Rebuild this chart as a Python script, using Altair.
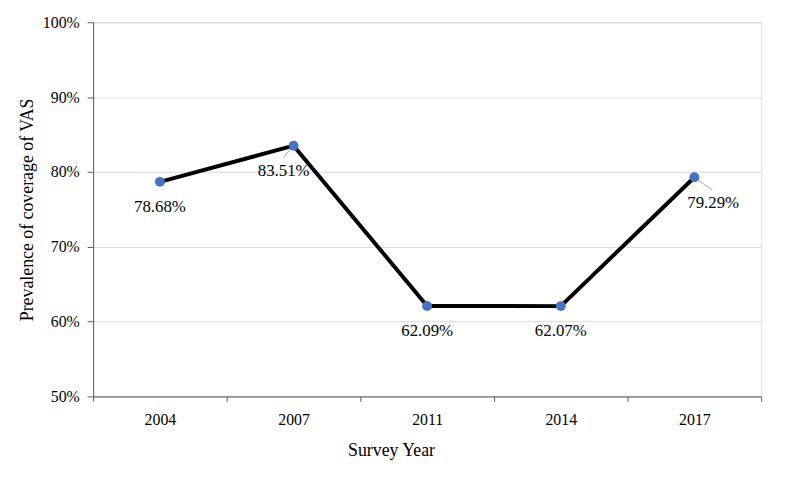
import altair as alt
import pandas as pd

years = ["2004", "2007", "2011", "2014", "2017"]
values = [78.68, 83.51, 62.09, 62.07, 79.29]
labels = ["78.68%", "83.51%", "62.09%", "62.07%", "79.29%"]

df = pd.DataFrame({"year": years, "value": [v / 100 for v in values], "label": labels})

FONT = "Liberation Serif"

x = alt.X("year:N", title="Survey Year", sort=years,
          scale=alt.Scale(paddingInner=0, paddingOuter=0),
          axis=alt.Axis(labelAngle=0, labelFontSize=16, titleFontSize=18,
                        labelFont=FONT, titleFont=FONT, labelColor="#000", titleColor="#000",
                        titleFontWeight="normal", labelPadding=10, titleX=301, titleY=55,
                        titleBaseline="middle",
                        domainColor="#595959", tickColor="#595959", tickSize=5,
                        tickBand="extent", grid=False))
y = alt.Y("value:Q", title="Prevalence of coverage of VAS",
          scale=alt.Scale(domain=[0.5, 1.0]),
          axis=alt.Axis(format=".0%", values=[0.5, 0.6, 0.7, 0.8, 0.9, 1.0],
                        labelFontSize=16, titleFontSize=18, labelFont=FONT, titleFont=FONT,
                        labelColor="#000", titleColor="#000", titleFontWeight="normal",
                        domainColor="#595959", tickColor="#595959", tickSize=6,
                        labelPadding=8, gridColor="#d9d9d9",
                        titleX=-66, titleY=189, titleAngle=270, titleBaseline="middle",
                        titleAlign="center"))

base = alt.Chart(df)

line = base.mark_line(color="#000000", strokeWidth=4).encode(x=x, y=y)
pts = base.mark_circle(color="#4472C4", size=100, opacity=1).encode(x=x, y=y)

below = base.transform_filter(
    alt.FieldOneOfPredicate(field="year", oneOf=["2004", "2011", "2014"])
).mark_text(font=FONT, fontSize=17, dy=25, baseline="middle", color="#000").encode(
    x=x, y=y, text="label:N")

lab07 = base.transform_filter(alt.FieldEqualPredicate(field="year", equal="2007")).mark_text(
    font=FONT, fontSize=17, dx=-10, dy=26, baseline="middle", color="#000").encode(
    x=x, y=y, text="label:N")
lead07 = base.transform_filter(alt.FieldEqualPredicate(field="year", equal="2007")).mark_rule(
    color="#a6a6a6", strokeWidth=1, x2Offset=-10, y2Offset=12).encode(
    x=x, y=y, x2=alt.X2("year:N"), y2=alt.Y2("value:Q"))

lab17 = base.transform_filter(alt.FieldEqualPredicate(field="year", equal="2017")).mark_text(
    font=FONT, fontSize=17, dx=19, dy=26, baseline="middle", color="#000").encode(
    x=x, y=y, text="label:N")
lead17 = base.transform_filter(alt.FieldEqualPredicate(field="year", equal="2017")).mark_rule(
    color="#a6a6a6", strokeWidth=1, x2Offset=18, y2Offset=13).encode(
    x=x, y=y, x2=alt.X2("year:N"), y2=alt.Y2("value:Q"))

chart = alt.layer(lead07, lead17, line, pts, below, lab07, lab17).properties(
    width=675, height=378,
    padding={"left": 86, "top": 12, "right": 21, "bottom": 84},
    autosize=alt.AutoSizeParams(type="none"),
    background="white",
).configure_view(stroke=None).configure(font=FONT).configure_text(font=FONT)

chart.save("out.html", embed_options={"renderer": "svg", "actions": False})
